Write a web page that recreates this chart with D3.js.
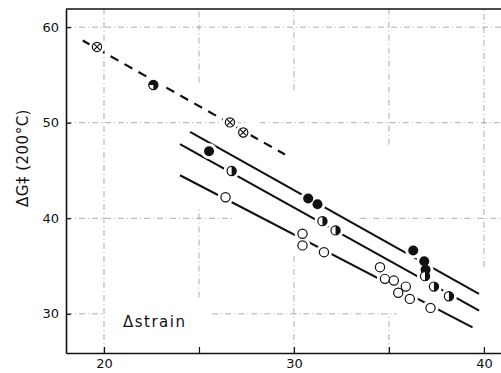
<!DOCTYPE html>
<html>
<head>
<meta charset="utf-8">
<script src="https://cdn.jsdelivr.net/npm/d3@7"></script>
<style>
  body { margin: 0; background: #fff; }
  text { font-family: "DejaVu Sans", sans-serif; fill: #111; }
</style>
</head>
<body>
<div id="rootDiv"></div>
<script>
// data (x = strain, y = dG at 200 C)
const crossedPts = [[19.63, 57.93], [26.63, 50.03], [27.33, 48.98]]
const quarterPts = [[22.6, 53.95]]
const filledPts = [[25.53, 47.02], [30.75, 42.06], [31.24, 41.46], [36.28, 36.63], [36.86, 35.51], [36.93, 34.6]]
const halfPts = [[26.72, 44.95], [31.5, 39.7], [32.19, 38.73], [36.9, 33.94], [37.37, 32.85], [38.16, 31.84]]
const openPts = [[26.4, 42.2], [30.45, 38.38], [30.45, 37.16], [31.58, 36.45], [34.53, 34.88], [34.79, 33.66],
    [35.26, 33.48], [35.89, 32.85], [35.49, 32.2], [36.1, 31.56], [37.19, 30.62]]

// fitted lines, end points
const dashedLine = [[18.88, 58.6], [29.53, 46.67]]
const filledLine = [[24.53, 49.04], [39.74, 32.09]]
const halfLine = [[24.0, 47.76], [39.75, 30.34]]
const openLine = [[24.0, 44.5], [39.4, 28.58]]

const xTicks = [20, 25, 30, 35, 40]
const xTickLabels = [20, 30, 40]
const yTicks = [30, 40, 50, 60]

// broken dash-dot grid of the original, in data units
const hGrid = [[60, 18, 40.9], [50, 18, 27.5], [50, 28.2, 40.9], [40, 18, 26.8], [40, 33.5, 40.9], [30, 18, 20], [30, 25.7, 35.4]]
const vGrid = [[20, 25.9, 61.9], [25, 54.2, 61.9], [25, 31.7, 41.1], [30, 53.4, 61.9], [30, 25.9, 36.2], [35, 47.7, 61.9], [35, 25.9, 30], [40, 34.9, 61.9]]

const width = 501, height = 373
const x = d3.scaleLinear().domain([18, 40.9]).range([66, 501])
const y = d3.scaleLinear().domain([25.9, 61.9]).range([353, 9])

const svg = d3.select("#rootDiv").append("svg")
    .attr("width", width)
    .attr("height", height)

// grid
const grid = svg.append("g")
    .attr("stroke", "#8a8a8a")
    .attr("stroke-width", 0.7)
    .attr("stroke-dasharray", "6,3,1,3")
grid.selectAll("line.h").data(hGrid).enter().append("line")
    .attr("x1", d => x(d[1])).attr("x2", d => x(d[2]))
    .attr("y1", d => y(d[0])).attr("y2", d => y(d[0]))
grid.selectAll("line.v").data(vGrid).enter().append("line")
    .attr("x1", d => x(d[0])).attr("x2", d => x(d[0]))
    .attr("y1", d => y(d[1])).attr("y2", d => y(d[2]))

// axes
const xAxis = svg.append("g")
    .attr("transform", `translate(0,${y(25.9)})`)
    .call(d3.axisBottom(x).tickValues(xTicks).tickSizeInner(-6).tickSizeOuter(0).tickPadding(6)
        .tickFormat(d => xTickLabels.includes(d) ? d : ""))
const yAxis = svg.append("g")
    .attr("transform", `translate(${x(18)},0)`)
    .call(d3.axisLeft(y).tickValues(yTicks).tickSizeInner(-5).tickSizeOuter(0).tickPadding(7))
for (const axis of [xAxis, yAxis]) {
    axis.select(".domain").attr("stroke", "#111").attr("stroke-width", 1.6)
    axis.selectAll("line").attr("stroke", "#111").attr("stroke-width", 1.2)
    axis.selectAll("text").attr("font-size", 13).attr("fill", "#111")
        .style("font-family", "DejaVu Sans, sans-serif")
}
// top frame
svg.append("line")
    .attr("x1", x(18)).attr("x2", x(40.9))
    .attr("y1", y(61.9)).attr("y2", y(61.9))
    .attr("stroke", "#111").attr("stroke-width", 1.4)

// lines
const line = d3.line().x(d => x(d[0])).y(d => y(d[1]))
svg.append("path").attr("d", line(dashedLine))
    .attr("fill", "none").attr("stroke", "#111").attr("stroke-width", 2.2)
    .attr("stroke-dasharray", "9,7")
for (const l of [filledLine, halfLine, openLine]) {
    svg.append("path").attr("d", line(l))
        .attr("fill", "none").attr("stroke", "#111").attr("stroke-width", 2.1)
}

// white halos break the lines around the symbols
const allPts = [].concat(crossedPts, quarterPts, filledPts, halfPts, openPts)
svg.append("g").selectAll("circle").data(allPts).enter().append("circle")
    .attr("cx", d => x(d[0])).attr("cy", d => y(d[1]))
    .attr("r", 8).attr("fill", "#fff")

const r = 4.6
const markers = svg.append("g")

markers.selectAll("circle.filled").data(filledPts).enter().append("circle")
    .attr("cx", d => x(d[0])).attr("cy", d => y(d[1]))
    .attr("r", r + 0.4).attr("fill", "#111")

markers.selectAll("circle.open").data(openPts).enter().append("circle")
    .attr("cx", d => x(d[0])).attr("cy", d => y(d[1]))
    .attr("r", r).attr("fill", "#fff").attr("stroke", "#111").attr("stroke-width", 1.2)

const halfArc = d3.arc().innerRadius(0).outerRadius(r).startAngle(0).endAngle(Math.PI)
const half = markers.selectAll("g.half").data(halfPts).enter().append("g")
    .attr("transform", d => `translate(${x(d[0])},${y(d[1])})`)
half.append("circle").attr("r", r).attr("fill", "#fff").attr("stroke", "#111").attr("stroke-width", 1.2)
half.append("path").attr("d", halfArc()).attr("fill", "#111")

const quarterArc = d3.arc().innerRadius(0).outerRadius(r).startAngle(-Math.PI / 2).endAngle(Math.PI)
const quarter = markers.selectAll("g.quarter").data(quarterPts).enter().append("g")
    .attr("transform", d => `translate(${x(d[0])},${y(d[1])})`)
quarter.append("circle").attr("r", r).attr("fill", "#fff").attr("stroke", "#111").attr("stroke-width", 1.2)
quarter.append("path").attr("d", quarterArc()).attr("fill", "#111")

const crossed = markers.selectAll("g.crossed").data(crossedPts).enter().append("g")
    .attr("transform", d => `translate(${x(d[0])},${y(d[1])})`)
crossed.append("circle").attr("r", r).attr("fill", "#fff").attr("stroke", "#111").attr("stroke-width", 1.2)
const k = r * 0.7
crossed.append("path").attr("d", `M${-k},${-k}L${k},${k}M${-k},${k}L${k},${-k}`)
    .attr("stroke", "#111").attr("stroke-width", 1.1)

// labels
svg.append("text")
    .attr("transform", `translate(28,158) rotate(-90)`)
    .attr("text-anchor", "middle")
    .attr("font-size", 15)
    .attr("letter-spacing", 0.5)
    .text("ΔG‡ (200°C)")

svg.append("text")
    .attr("x", x(21))
    .attr("y", 327)
    .attr("font-size", 15)
    .attr("letter-spacing", 1.5)
    .text("Δstrain")
</script>
</body>
</html>
